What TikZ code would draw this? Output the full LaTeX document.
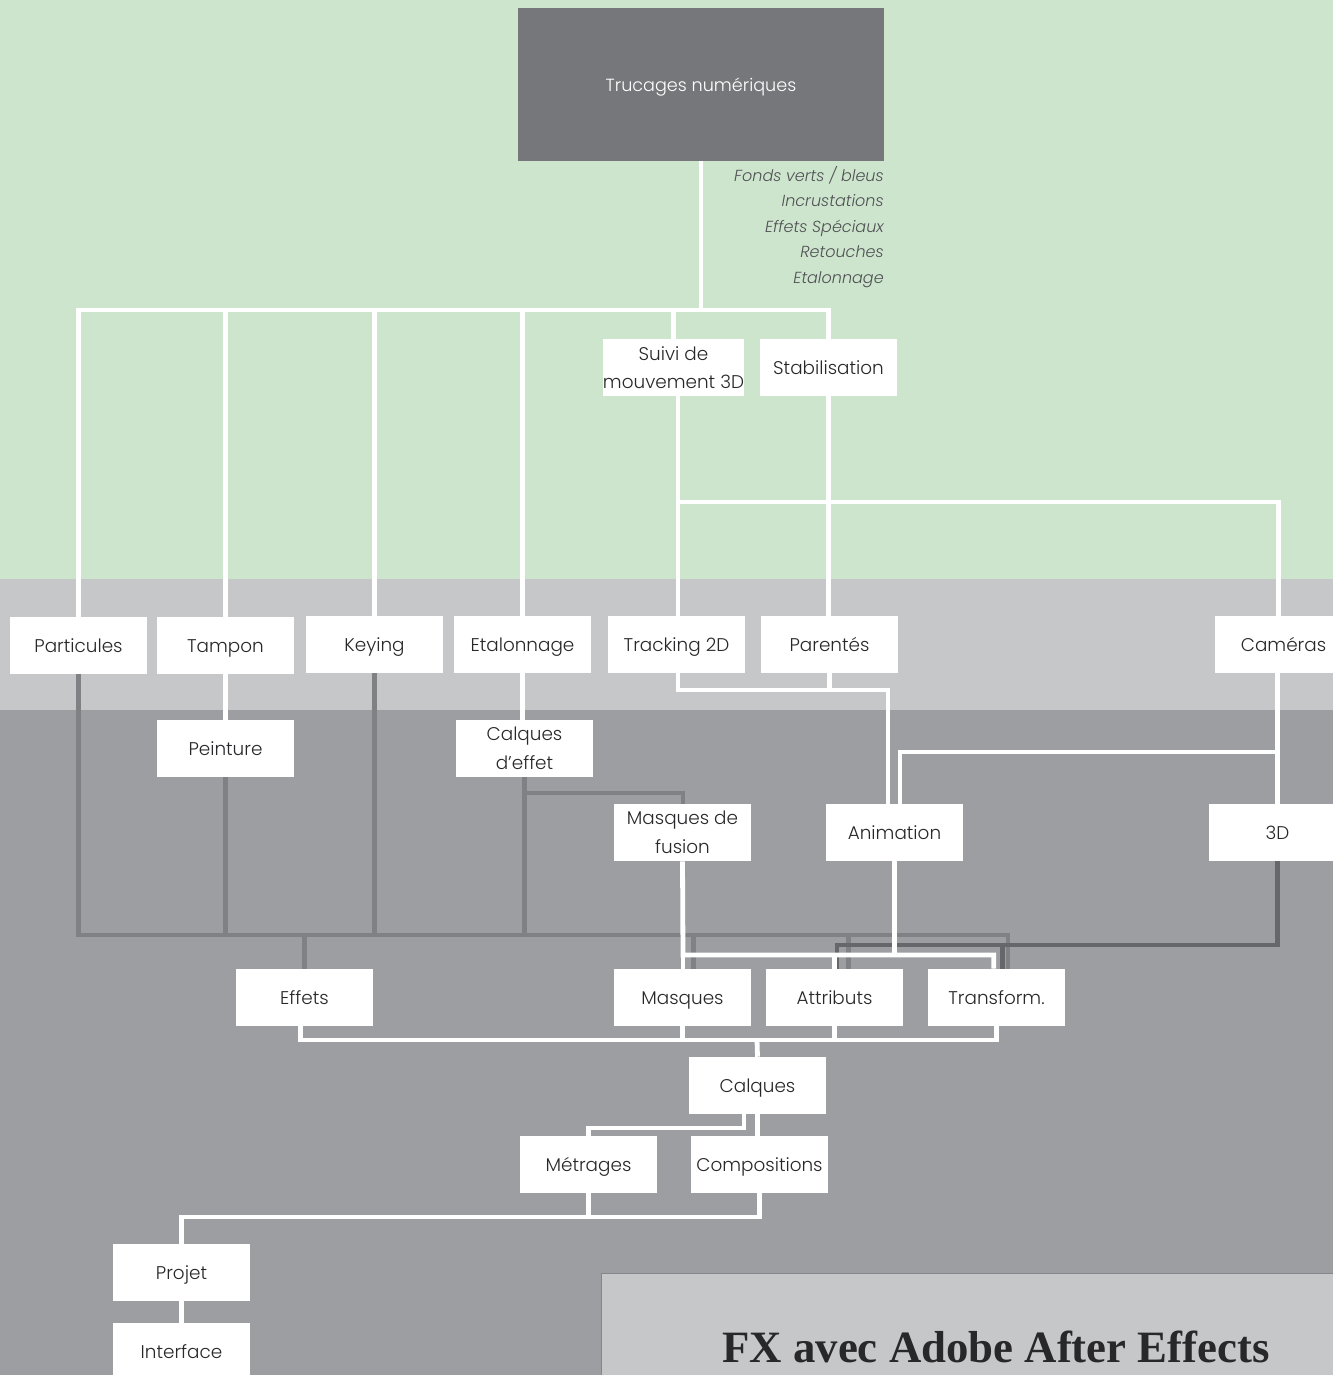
\documentclass[tikz,border=0pt]{standalone}
\usepackage{fontspec}
\setmainfont{Poppins}[UprightFont={* Light}, ItalicFont={* Light Italic}]
\newfontfamily\titlefont{Liberation Serif}
\usetikzlibrary{calc}
\definecolor{bgGreen}{RGB}{205,229,205}
\definecolor{bgLight}{RGB}{198,199,201}
\definecolor{bgDark}{RGB}{157,158,162}
\definecolor{topGray}{RGB}{118,119,123}
\definecolor{lineMid}{RGB}{128,129,133}
\definecolor{lineDark}{RGB}{102,103,107}
\definecolor{boxText}{RGB}{40,40,42}
\definecolor{noteText}{RGB}{80,80,85}

\begin{document}
\begin{tikzpicture}[x=0.75pt,y=0.75pt,yscale=-1,xscale=1,
  boxbase/.style={fill=white, inner sep=0pt, minimum width=102.75pt, minimum height=42.75pt,
    align=center, text=boxText, font=\fontsize{13.8}{21.5}\selectfont},
  box/.style={boxbase, text height=1.02em, text depth=0em},
  boxtwo/.style={boxbase},
  topbox/.style={fill=topGray, inner sep=0pt, minimum width=274.5pt, minimum height=114.75pt,
    text=white, text height=1.02em, text depth=0em, font=\fontsize{13.2}{17}\selectfont},
  note/.style={anchor=east, align=right, inner sep=0pt, text=noteText,
    font=\fontsize{12}{19.2}\selectfont\itshape},
  wline/.style={draw=white, line width=3.6pt},
  mline/.style={draw=lineMid, line width=3.6pt},
  dline/.style={draw=lineDark, line width=3.6pt}]
\path[use as bounding box, clip] (0,0) rectangle (1333,1375);

%Shape: Rectangle [background bands]
\fill [bgGreen] (0,0) rectangle (1333,579);
\fill [bgLight] (0,579) rectangle (1333,710);
\fill [bgDark] (0,710) rectangle (1333,1375);
\draw [fill=bgLight, draw=bgDark!85!black, line width=0.6pt] (601,1273) rectangle (1340,1380);

% Box Nodes
\draw (701,84.5) node [topbox] (top) {Trucages numériques};
\draw (673.5,367.5) node [boxtwo] (suivi) {Suivi de\\mouvement 3D};
\draw (828.5,367.5) node [box] (stab) {Stabilisation};
\draw (78.5,645.5) node [box] (part) {Particules};
\draw (225.5,645.5) node [box] (tamp) {Tampon};
\draw (374.5,644.5) node [box] (key) {Keying};
\draw (522.5,644.5) node [box] (etal) {Etalonnage};
\draw (676.5,644.5) node [box] (trk) {Tracking 2D};
\draw (829.5,644.5) node [box] (par) {Parentés};
\draw (1283.5,644.5) node [box] (cam) {Caméras};
\draw (225.5,748.5) node [box] (pein) {Peinture};
\draw (524.5,748.5) node [boxtwo] (cdef) {Calques\\d'effet};
\draw (682.5,832.5) node [boxtwo] (mfus) {Masques de\\fusion};
\draw (894.5,832.5) node [box] (anim) {Animation};
\draw (1277.5,832.5) node [box] (d3) {3D};
\draw (304.5,997.5) node [box] (eff) {Effets};
\draw (682.5,997.5) node [box] (masq) {Masques};
\draw (834.5,997.5) node [box] (attr) {Attributs};
\draw (996.5,997.5) node [box] (trans) {Transform.};
\draw (757.5,1085.5) node [box] (calq) {Calques};
\draw (588.5,1164.5) node [box] (metr) {Métrages};
\draw (759.5,1164.5) node [box] (comp) {Compositions};
\draw (181.5,1272.5) node [box] (proj) {Projet};
\draw (181.5,1351.5) node [box] (intf) {Interface};

% Bus Coordinates
\coordinate (busTop) at (701,310);
\coordinate (busTrk) at (678,502);
\coordinate (busAni) at (888,690);
\coordinate (busCam) at (900,752);
\coordinate (busFus) at (683,793);
\coordinate (busMid) at (1008,935);
\coordinate (busDark) at (837,945);
\coordinate (busMsk) at (683,955);
\coordinate (busCalq) at (757,1040);
\coordinate (busMetr) at (744,1128);
\coordinate (busProj) at (181,1217);

%Straight Lines [grey lines]
\draw [mline] (part.south) |- (busMid) -- (busMid |- trans.north);
\draw [mline] (pein.south) -- (pein.south |- busMid);
\draw [mline] (key.south) -- (key.south |- busMid);
\draw [mline] (cdef.south) -- (cdef.south |- busMid);
\draw [mline] (cdef.south) |- (busFus) -- (busFus |- mfus.north);
\draw [mline] (eff.north |- busMid) -- (eff.north);
\draw [mline] ([xshift=8.25pt]masq.north |- busMid) -- ([xshift=8.25pt]masq.north);
\draw [mline] ([xshift=10.5pt]attr.north |- busMid) -- ([xshift=10.5pt]attr.north);
\draw [dline] (d3.south) |- (busDark) -- (busDark |- attr.north);
\draw [dline] ([xshift=4.5pt]trans.north |- busDark) -- ([xshift=4.5pt]trans.north);

%Straight Lines [white lines]
\draw [wline] (top.south) -- (busTop);
\draw [wline] (part.north) |- (busTop) -| (stab.north);
\draw [wline] (tamp.north) -- (tamp.north |- busTop);
\draw [wline] (key.north) -- (key.north |- busTop);
\draw [wline] (etal.north) -- (etal.north |- busTop);
\draw [wline] (suivi.north) -- (suivi.north |- busTop);
\draw [wline] (busTrk |- suivi.south) -- (busTrk |- trk.north);
\draw [wline] (stab.south) -- (stab.south |- par.north);
\draw [wline] (busTrk) -| ([xshift=-4pt]cam.north);
\draw [wline] (busTrk |- trk.south) |- (busAni) -- (busAni |- anim.north);
\draw [wline] (par.south) -- (par.south |- busAni);
\draw [wline] (d3.north |- cam.south) -- (d3.north);
\draw [wline] (d3.north |- busCam) -- (busCam) -- (busCam |- anim.north);
\draw [wline] (tamp.south) -- (pein.north);
\draw [wline] (etal.south) -- (etal.south |- cdef.north);
\draw [wline] (mfus.south) -- (busMsk) -| ([xshift=-2pt]trans.north);
\draw [wline] (busMsk) -- (busMsk |- masq.north);
\draw [wline] (attr.north |- busMsk) -- (attr.north);
\draw [wline] (anim.south) -- (anim.south |- busMsk);
\draw [wline] ([xshift=-3pt]eff.south) |- (trans.south |- busCalq) -- (trans.south);
\draw [wline] (masq.south) -- (masq.south |- busCalq);
\draw [wline] (attr.south) -- (attr.south |- busCalq);
\draw [wline] (busCalq) -- (calq.north);
\draw [wline] (busMetr |- calq.south) |- (metr.north |- busMetr) -- (metr.north);
\draw [wline] (calq.south) -- (calq.south |- comp.north);
\draw [wline] (proj.north) |- (comp.south |- busProj) -- (comp.south);
\draw [wline] (metr.south) -- (metr.south |- busProj);
\draw [wline] (proj.south) -- (intf.north);

% Text Node
\draw (884,227) node [note] (notes) {Fonds verts / bleus\\Incrustations\\Effets Spéciaux\\Retouches\\Etalonnage};
% Text Node
\draw (996,1362) node [anchor=base, inner sep=0pt, text=boxText, font=\titlefont\bfseries\fontsize{33.6}{38}\selectfont] (title) {FX avec Adobe After Effects};

\end{tikzpicture}
\end{document}
